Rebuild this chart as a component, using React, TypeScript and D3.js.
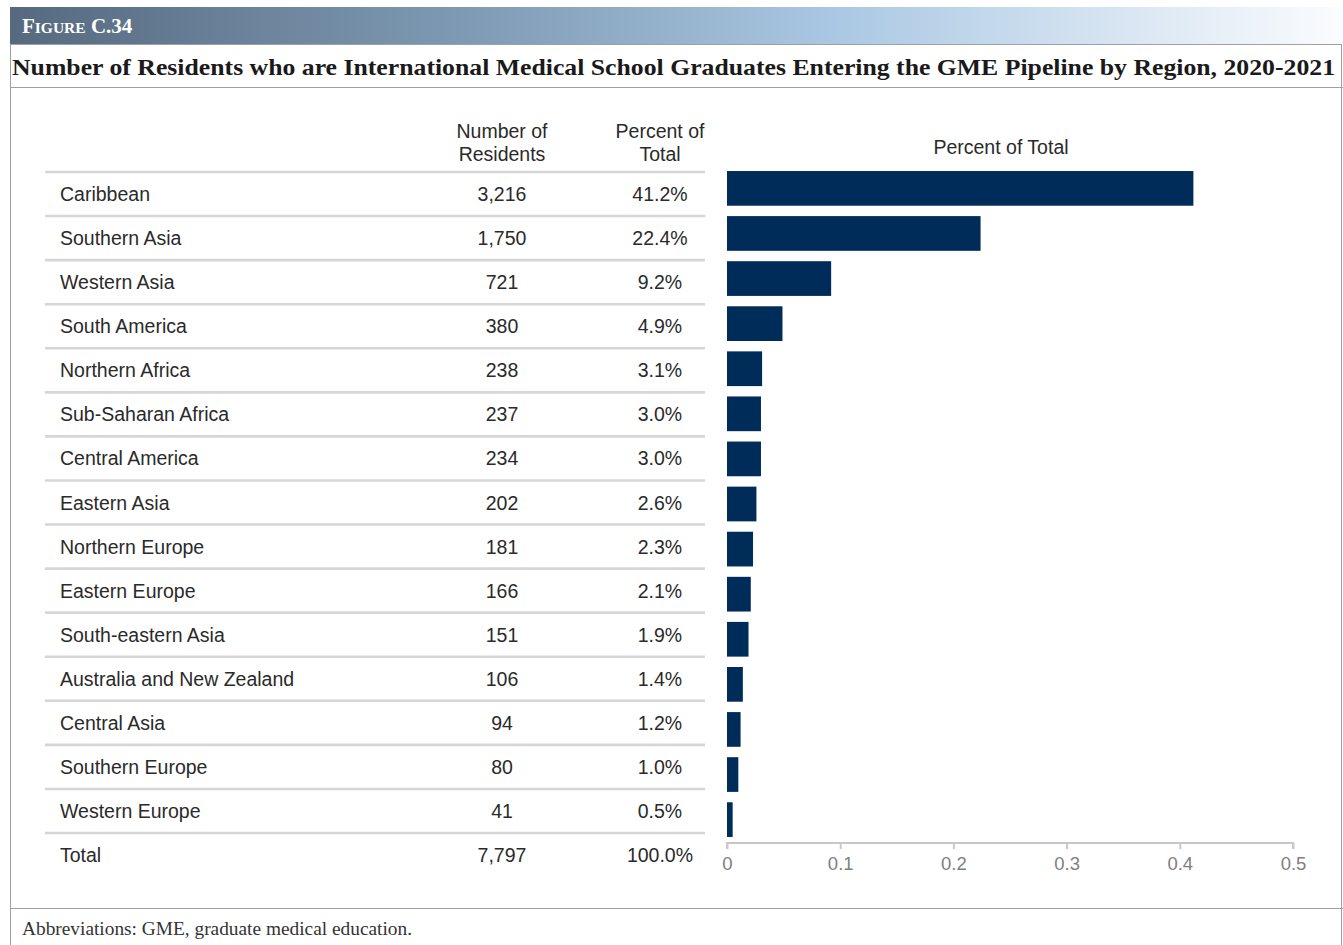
import { useEffect, useRef } from "react";
import * as d3 from "d3";

const regions = [
  "Caribbean",
  "Southern Asia",
  "Western Asia",
  "South America",
  "Northern Africa",
  "Sub-Saharan Africa",
  "Central America",
  "Eastern Asia",
  "Northern Europe",
  "Eastern Europe",
  "South-eastern Asia",
  "Australia and New Zealand",
  "Central Asia",
  "Southern Europe",
  "Western Europe",
];
const residents = [3216, 1750, 721, 380, 238, 237, 234, 202, 181, 166, 151, 106, 94, 80, 41];
const shares = [0.412, 0.224, 0.092, 0.049, 0.031, 0.03, 0.03, 0.026, 0.023, 0.021, 0.019, 0.014, 0.012, 0.01, 0.005];
const totalResidents = 7797;
const totalShare = 1;
const xTicks = [0, 0.1, 0.2, 0.3, 0.4, 0.5];

const W = 1343,
  H = 945;
const sans = "'Liberation Sans', Arial, sans-serif";
const serif = "'Liberation Serif', 'Times New Roman', serif";

const App = () => {
  const svgRef = useRef<SVGSVGElement | null>(null);

  useEffect(() => {
    const svg = d3.select(svgRef.current);
    svg.selectAll("*").remove();

    // header band
    const grad = svg
      .append("defs")
      .append("linearGradient")
      .attr("id", "band")
      .attr("x1", "0")
      .attr("x2", "1");
    grad.append("stop").attr("offset", "0").attr("stop-color", "#56697f");
    grad.append("stop").attr("offset", "0.35").attr("stop-color", "#7f9bb5");
    grad.append("stop").attr("offset", "0.62").attr("stop-color", "#aac8e3");
    grad.append("stop").attr("offset", "1").attr("stop-color", "#fbfcfe");

    svg.append("rect").attr("x", 10).attr("y", 7).attr("width", W - 10).attr("height", 37).attr("fill", "url(#band)");

    const fig = svg
      .append("text")
      .attr("x", 22)
      .attr("y", 33)
      .attr("fill", "#fff")
      .attr("font-family", serif)
      .attr("font-weight", "bold");
    fig.append("tspan").attr("font-size", 21).text("F");
    fig.append("tspan").attr("font-size", 15.5).text("IGURE");
    fig.append("tspan").attr("font-size", 21).text(" C.34");

    // frame
    svg
      .append("rect")
      .attr("x", 10.5)
      .attr("y", 44.5)
      .attr("width", W - 12)
      .attr("height", H)
      .attr("fill", "none")
      .attr("stroke", "#a0a0a0");
    svg.append("line").attr("x1", 10).attr("x2", W).attr("y1", 87.5).attr("y2", 87.5).attr("stroke", "#a0a0a0");
    svg.append("line").attr("x1", 10).attr("x2", W).attr("y1", 908.5).attr("y2", 908.5).attr("stroke", "#a0a0a0");

    svg
      .append("text")
      .attr("x", 12)
      .attr("y", 75)
      .attr("font-family", serif)
      .attr("font-weight", "bold")
      .attr("font-size", 23)
      .attr("fill", "#1a1a1a")
      .attr("textLength", 1323)
      .attr("lengthAdjust", "spacingAndGlyphs")
      .text(
        "Number of Residents who are International Medical School Graduates Entering the GME Pipeline by Region, 2020-2021"
      );

    svg
      .append("text")
      .attr("x", 22)
      .attr("y", 935)
      .attr("font-family", serif)
      .attr("font-size", 18.5)
      .attr("fill", "#333")
      .attr("textLength", 390)
      .attr("lengthAdjust", "spacingAndGlyphs")
      .text("Abbreviations: GME, graduate medical education.");

    // table
    const rowY = d3.scaleBand<string>().domain(regions).range([172, 833]);
    const step = rowY.step();
    const numX = 502,
      pctX = 660;
    const fmtN = d3.format(",");
    const fmtP = d3.format(".1%");

    const table = svg.append("g").attr("font-family", sans).attr("font-size", 19.5).attr("fill", "#2a2a2a");

    [
      ["Number of", "Residents", numX],
      ["Percent of", "Total", pctX],
    ].forEach(([a, b, x]) => {
      const t = table.append("text").attr("text-anchor", "middle");
      t.append("tspan").attr("x", x).attr("y", 138).text(a as string);
      t.append("tspan").attr("x", x).attr("y", 161).text(b as string);
    });

    const lines = [...regions.map((r) => rowY(r)!), rowY.range()[1]];
    table
      .selectAll(".row-line")
      .data(lines)
      .enter()
      .append("line")
      .attr("x1", 45)
      .attr("x2", 705)
      .attr("y1", (d) => d)
      .attr("y2", (d) => d)
      .attr("stroke", "#d6d6d6")
      .attr("stroke-width", 2.6);

    const rows = regions.map((r, i) => ({ label: r, n: residents[i], p: shares[i], y: rowY(r)! + step / 2 }));
    rows.push({ label: "Total", n: totalResidents, p: totalShare, y: rowY.range()[1] + step / 2 });

    const rowG = table
      .selectAll(".row")
      .data(rows)
      .enter()
      .append("g")
      .attr("transform", (d) => `translate(0,${d.y + 7})`);
    rowG.append("text").attr("x", 60).text((d) => d.label);
    rowG.append("text").attr("x", numX).attr("text-anchor", "middle").text((d) => fmtN(d.n));
    rowG.append("text").attr("x", pctX).attr("text-anchor", "middle").text((d) => fmtP(d.p));

    // bar chart
    const x = d3.scaleLinear().domain([0, 0.5]).range([727, 1293]);
    const y = d3.scaleBand<string>().domain(regions).range([162, 846]).paddingInner(0.23).paddingOuter(0.2);

    svg
      .append("text")
      .attr("x", 1001)
      .attr("y", 154)
      .attr("text-anchor", "middle")
      .attr("font-family", sans)
      .attr("font-size", 19.5)
      .attr("fill", "#2a2a2a")
      .text("Percent of Total");

    svg
      .selectAll(".bar")
      .data(rows.slice(0, regions.length))
      .enter()
      .append("rect")
      .attr("class", "bar")
      .attr("x", x(0))
      .attr("y", (d) => y(d.label)!)
      .attr("width", (d) => x(d.p) - x(0))
      .attr("height", y.bandwidth())
      .attr("fill", "#002c5a");

    const axis = svg
      .append("g")
      .attr("transform", "translate(0,843)")
      .call(d3.axisBottom(x).tickValues(xTicks).tickSize(6).tickPadding(8).tickFormat(d3.format("")));
    axis.select(".domain").attr("stroke", "#c8c8c8").attr("stroke-width", 2).attr("d", `M${x(0)},6V0H${x(0.5)}V6`);
    axis.selectAll(".tick line").attr("stroke", "#c8c8c8").attr("stroke-width", 2);
    axis
      .selectAll(".tick text")
      .attr("fill", "#808080")
      .attr("font-family", sans)
      .attr("font-size", 18.5);
  }, []);

  return (
    <svg
      ref={svgRef}
      width={W}
      height={H}
      style={{ position: "absolute", left: 0, top: 0, background: "#fff" }}
    ></svg>
  );
};

export default App;
